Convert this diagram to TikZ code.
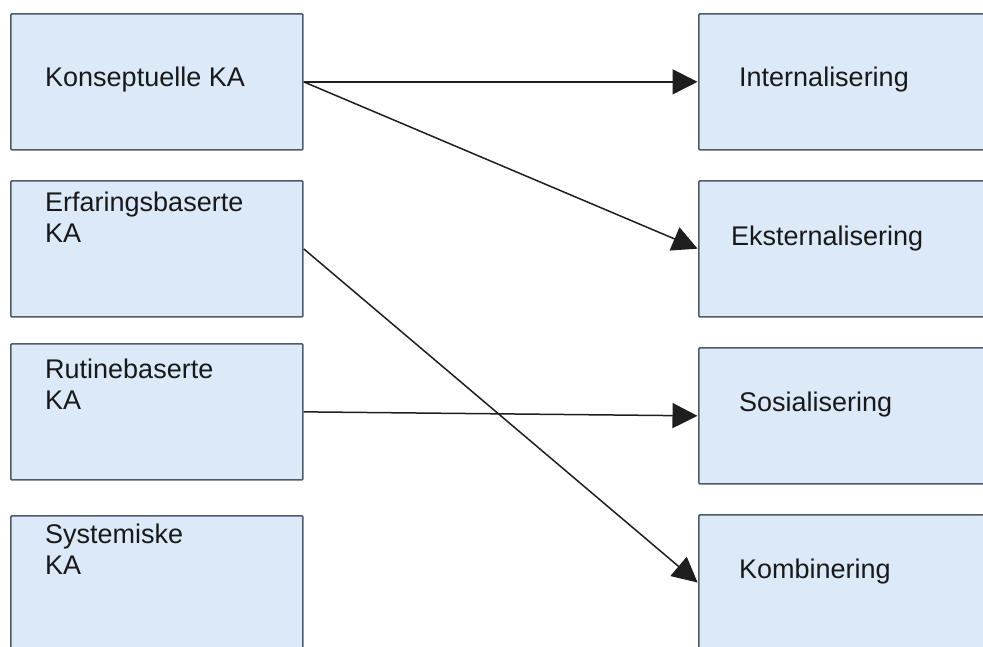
\documentclass[tikz,border=0pt]{standalone}
\usepackage{fontspec}
\setmainfont{Liberation Sans}
\usetikzlibrary{arrows.meta}
\definecolor{boxfill}{HTML}{DBE9F8}
\definecolor{boxline}{HTML}{4E5B68}
\definecolor{linkline}{HTML}{1E1E1E}
\tikzset{
  kabox/.style={draw=boxline, fill=boxfill, line width=1.7pt, rectangle,
    rounded corners=1pt, anchor=north west, inner sep=0pt,
    minimum width=292pt, minimum height=136pt},
  kalabel/.style={anchor=base west, inner sep=0pt, align=left,
    font=\fontsize{27}{30.5}\selectfont, text=black!90},
  link/.style={draw=linkline, line width=1.5pt,
    -{Triangle[length=25pt,width=25pt]}, shorten >=0.5pt}
}
\begin{document}
\begin{tikzpicture}[x=1pt, y=-1pt]
  \useasboundingbox (0,0) rectangle (983,646);
  \clip (0,0) rectangle (983,646);

  % left column
  \node[kabox] (l1) at (10,13) {};
  \node[kabox] (l2) at (10,180) {};
  \node[kabox] (l3) at (10,343) {};
  \node[kabox] (l4) at (10,515) {};
  \node[kalabel] (tl1) at (45,86) {Konseptuelle KA};
  \node[kalabel] (tl2) at (45,242) {Erfaringsbaserte\\KA};
  \node[kalabel] (tl3) at (45,409) {Rutinebaserte\\KA};
  \node[kalabel] (tl4) at (45,574) {Systemiske\\KA};

  % right column
  \node[kabox] (r1) at (698,13) {};
  \node[kabox] (r2) at (698,180) {};
  \node[kabox] (r3) at (698,347) {};
  \node[kabox] (r4) at (698,514) {};
  \node[kalabel] (tr1) at (739,86) {Internalisering};
  \node[kalabel] (tr2) at (731,245) {Eksternalisering};
  \node[kalabel] (tr3) at (739,411) {Sosialisering};
  \node[kalabel] (tr4) at (739,578) {Kombinering};

  % connectors
  \draw[link] (l1.east) -- (r1.west);
  \draw[link] (l1.east) -- (r2.west);
  \draw[link] (l2.east) -- (r4.west);
  \draw[link] (l3.east) -- (r3.west);
\end{tikzpicture}
\end{document}
